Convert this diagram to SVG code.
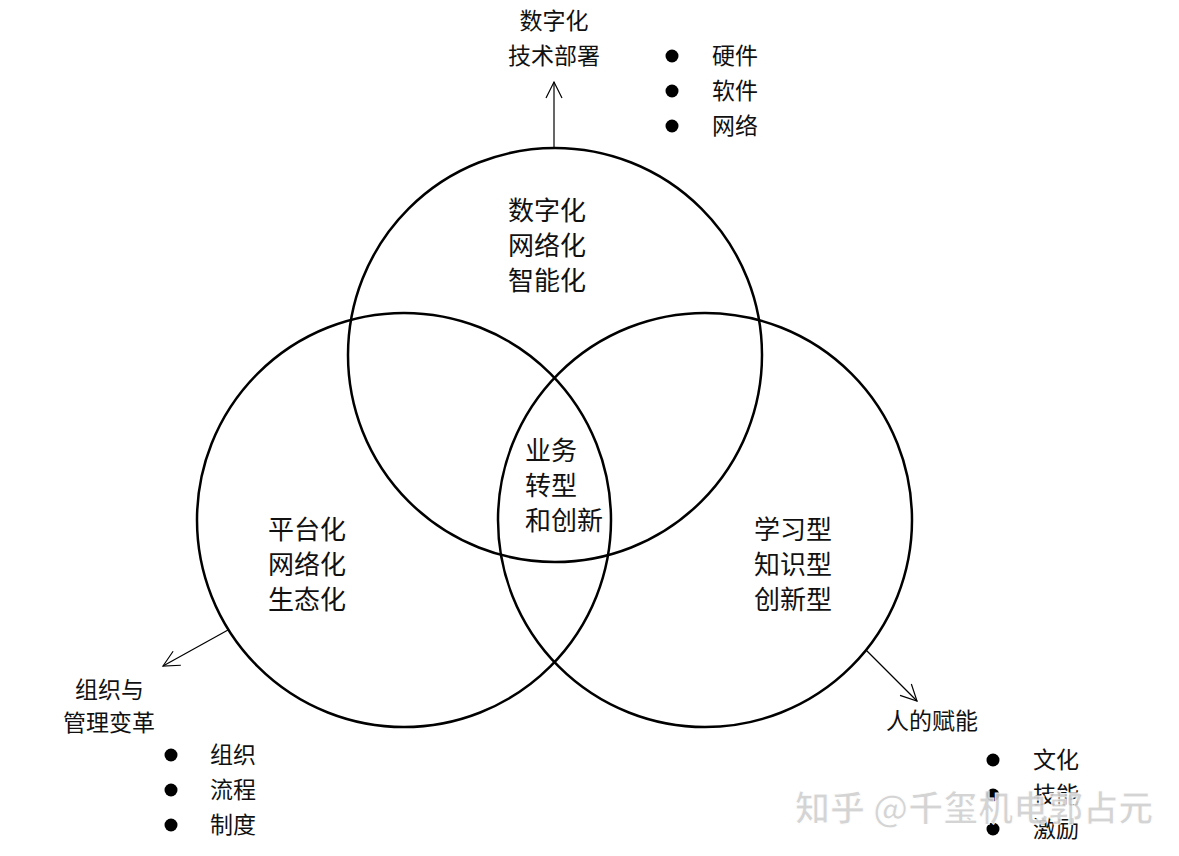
<svg xmlns="http://www.w3.org/2000/svg" width="1179" height="856" viewBox="0 0 1179 856">
<defs>
<style>
.c{fill:none;stroke:#000;stroke-width:2.5}
.a{fill:none;stroke:#000;stroke-width:1.2}
.t{font-family:"Noto Sans CJK SC","Noto Sans CJK JP",sans-serif;fill:#111}
.l{font-size:26px}
.s{font-size:23px}
.b{fill:#000}
.w{font-family:"Noto Sans CJK SC",sans-serif;font-size:35px;fill:#d0d0d0;stroke:#ffffff;stroke-width:1;font-weight:bold;opacity:0.9}
</style>
<marker id="ah" viewBox="0 0 20 20" refX="18" refY="10" markerWidth="20" markerHeight="20" markerUnits="userSpaceOnUse" orient="auto">
<path d="M2,2 L18,10 L2,18" fill="none" stroke="#000" stroke-width="1.2"/>
</marker>
</defs>
<rect width="1179" height="856" fill="#fff"/>
<g id="circle-top">
<circle class="c" cx="555" cy="355" r="207"/>
<text class="t l" x="508" y="220">数字化</text>
<text class="t l" x="508" y="255">网络化</text>
<text class="t l" x="508" y="290">智能化</text>
</g>
<g id="circle-left">
<circle class="c" cx="404" cy="520" r="207"/>
<text class="t l" x="268" y="539">平台化</text>
<text class="t l" x="268" y="574">网络化</text>
<text class="t l" x="268" y="609">生态化</text>
</g>
<g id="circle-right">
<circle class="c" cx="705" cy="520" r="207"/>
<text class="t l" x="754" y="539">学习型</text>
<text class="t l" x="754" y="574">知识型</text>
<text class="t l" x="754" y="609">创新型</text>
</g>
<g id="center">
<text class="t l" x="525" y="460">业务</text>
<text class="t l" x="525" y="495">转型</text>
<text class="t l" x="525" y="530">和创新</text>
</g>
<g id="connectors">
<line class="a" x1="554" y1="148" x2="554" y2="82" marker-end="url(#ah)"/>
<line class="a" x1="228" y1="630" x2="163" y2="666" marker-end="url(#ah)"/>
<line class="a" x1="866" y1="650" x2="917" y2="701" marker-end="url(#ah)"/>
</g>
<g id="label-top">
<text class="t s" x="554" y="29" text-anchor="middle">数字化</text>
<text class="t s" x="554" y="64" text-anchor="middle">技术部署</text>
<circle class="b" cx="672" cy="56" r="6.5"/>
<circle class="b" cx="672" cy="91" r="6.5"/>
<circle class="b" cx="672" cy="126" r="6.5"/>
<text class="t s" x="712" y="64">硬件</text>
<text class="t s" x="712" y="99">软件</text>
<text class="t s" x="712" y="134">网络</text>
</g>
<g id="label-left">
<text class="t s" x="75" y="698">组织与</text>
<text class="t s" x="63" y="731">管理变革</text>
<circle class="b" cx="171" cy="755" r="6.5"/>
<circle class="b" cx="171" cy="790" r="6.5"/>
<circle class="b" cx="171" cy="825" r="6.5"/>
<text class="t s" x="210" y="763">组织</text>
<text class="t s" x="210" y="798">流程</text>
<text class="t s" x="210" y="833">制度</text>
</g>
<g id="label-right">
<text class="t s" x="886" y="729">人的赋能</text>
<circle class="b" cx="993" cy="760" r="6.5"/>
<circle class="b" cx="993" cy="795" r="6.5"/>
<circle class="b" cx="993" cy="829" r="6.5"/>
<text class="t s" x="1033" y="768">文化</text>
<text class="t s" x="1033" y="803">技能</text>
<text class="t s" x="1033" y="837">激励</text>
</g>
<text class="w" x="795" y="821">知乎 @千玺机电郭占元</text>
</svg>
